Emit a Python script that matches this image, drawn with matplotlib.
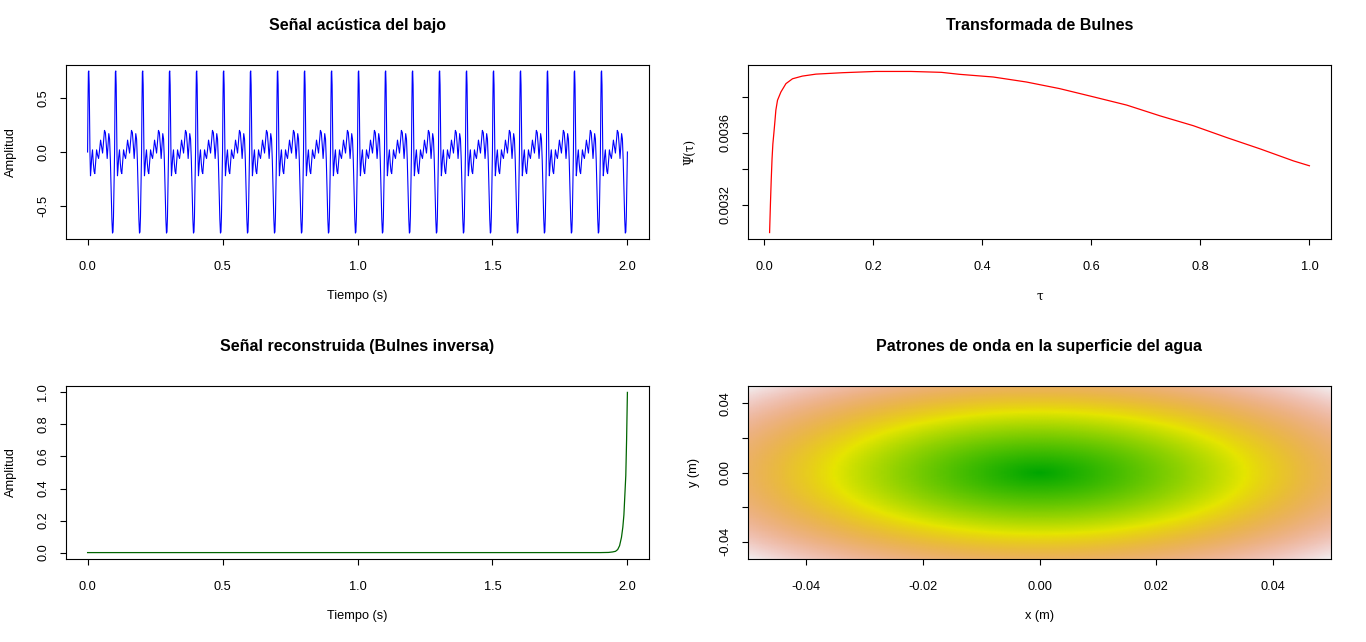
import numpy as np
import matplotlib
matplotlib.use("Agg")
import matplotlib.pyplot as plt
from matplotlib.colors import ListedColormap, hsv_to_rgb

# ---------------- data ----------------
# Panel 1: bass signal - one 0.1 s period, repeated 20 times
bass_period_s = 0.1
bass_n_periods = 20
bass_period_px = [0.0, 0.4, 0.8, 1.2, 1.6, 2.0, 2.4, 2.9, 3.4, 4.1, 4.9, 5.7,
                  6.5, 7.2, 8.0, 9.0, 10.0, 11.0, 12.0, 13.0, 14.0, 15.0,
                  16.0, 16.9, 17.8, 18.7, 19.6, 20.4, 21.2, 22.0, 22.8, 23.6,
                  24.3, 24.9, 25.4, 25.9, 26.4, 27.0]
bass_period_value = [0.0, 0.45, 0.74, 0.75, 0.62, 0.30, -0.02, -0.22, -0.16,
                     -0.05, 0.02, -0.10, -0.18, -0.20, -0.10, 0.02, -0.03,
                     -0.06, 0.02, 0.11, 0.05, -0.01, 0.10, 0.20, 0.18, 0.07,
                     -0.06, 0.05, 0.17, 0.12, -0.08, -0.35, -0.62, -0.75,
                     -0.74, -0.60, -0.30, 0.0]
bass_px_per_period = 27.0

# Panel 2: Bulnes transform
tau_values = [0.010, 0.0115, 0.013, 0.0145, 0.016, 0.0178, 0.0197, 0.0215,
              0.0245, 0.0307, 0.040, 0.052, 0.070, 0.095, 0.144, 0.205,
              0.269, 0.325, 0.358, 0.420, 0.481, 0.542, 0.604, 0.665,
              0.726, 0.787, 0.849, 0.910, 0.971, 1.0]
psi_values = [0.003044, 0.003200, 0.003339, 0.003456, 0.003539, 0.003598,
              0.003663, 0.003728, 0.003783, 0.003829, 0.003876, 0.003903,
              0.003918, 0.003929, 0.003937, 0.003944, 0.003944, 0.003939,
              0.003928, 0.003913, 0.003885, 0.003848, 0.003802, 0.003756,
              0.003696, 0.003641, 0.003574, 0.003511, 0.003444, 0.003417]

# Panel 3: reconstructed signal
recon_time = [0.0, 1.0, 1.90, 1.93, 1.945, 1.956, 1.964, 1.971, 1.978,
              1.983, 1.987, 1.990, 1.994, 1.997, 2.0]
recon_amp = [0.0, 0.0, 0.0, 0.001, 0.004, 0.008, 0.019, 0.043, 0.095,
             0.158, 0.235, 0.340, 0.480, 0.705, 1.0]

# Panel 4: water surface pattern (radial distance field)
grid_x = np.linspace(-0.05, 0.05, 201)
grid_y = np.linspace(-0.05, 0.05, 201)

# ---------------- style ----------------
plt.rcParams['font.family'] = ['Liberation Sans', 'DejaVu Sans']
FS_TICK = 9.2
FS_LAB = 9.2
FS_TITLE = 11.5

W, H = 1366, 642
fig = plt.figure(figsize=(W / 100, H / 100), dpi=100)


def make_ax(x0, y0, x1, y1):
    return fig.add_axes([x0 / W, 1 - y1 / H, (x1 - x0) / W, (y1 - y0) / H])


def style(ax, title, xlabel, ylabel, box_w, box_h, ylab_off, ylab_kw=None):
    for s in ax.spines.values():
        s.set_linewidth(0.8)
        s.set_color('black')
    ax.tick_params(direction='out', length=4.5, width=0.8, colors='black',
                   labelsize=FS_TICK)
    ax.tick_params(axis='x', pad=11.0)
    ax.tick_params(axis='y', pad=7.5)
    for lab in ax.get_yticklabels():
        lab.set_rotation(90)
        lab.set_va('center')
        lab.set_ha('right')
    ax.set_title(title, fontsize=FS_TITLE, fontweight='bold',
                 y=1 + 31 / box_h, va='center')
    ax.set_xlabel(xlabel, fontsize=FS_LAB, va='center')
    ax.xaxis.set_label_coords(0.5, -57 / box_h)
    kw = dict(fontsize=FS_LAB, va='center')
    if ylab_kw:
        kw.update(ylab_kw)
    ax.set_ylabel(ylabel, **kw)
    ax.yaxis.set_label_coords(-ylab_off / box_w, 0.5)


# ---- Panel 1 ----
ax1 = make_ax(66, 65, 649, 239)
phase = np.asarray(bass_period_px) / bass_px_per_period
t = ((np.arange(bass_n_periods)[:, None] + phase[None, :]) * bass_period_s).ravel()
sig = np.tile(np.asarray(bass_period_value), bass_n_periods)
ax1.plot(t, sig, color='blue', lw=0.8, antialiased=True)
ax1.set_xlim(-0.08, 2.08)
ax1.set_ylim(-0.805, 0.805)
ax1.set_xticks([0.0, 0.5, 1.0, 1.5, 2.0])
ax1.set_xticklabels(['0.0', '0.5', '1.0', '1.5', '2.0'])
ax1.set_yticks([-0.5, 0.0, 0.5])
ax1.set_yticklabels(['-0.5', '0.0', '0.5'])
style(ax1, 'Señal acústica del bajo', 'Tiempo (s)', 'Amplitud', 583, 174, 55)

# ---- Panel 2 ----
ax2 = make_ax(748, 65, 1331, 239)
ax2.plot(tau_values, psi_values, color='red', lw=0.9)
ax2.margins(x=0.04, y=0.04)
ax2.set_xticks([0.0, 0.2, 0.4, 0.6, 0.8, 1.0])
ax2.set_xticklabels(['0.0', '0.2', '0.4', '0.6', '0.8', '1.0'])
ax2.set_yticks([0.0032, 0.0034, 0.0036, 0.0038])
ax2.set_yticklabels(['0.0032', '', '0.0036', ''])
style(ax2, 'Transformada de Bulnes', 'τ', 'Ψ(τ)', 583, 174, 58,
      ylab_kw=dict(family=['DejaVu Serif']))
ax2.xaxis.label.set_family(['DejaVu Serif'])
ax2.xaxis.label.set_fontsize(8.5)
ax2.yaxis.label.set_fontsize(8.5)

# ---- Panel 3 ----
ax3 = make_ax(66, 386, 649, 559)
ax3.plot(recon_time, recon_amp, color='#006400', lw=0.9)
ax3.set_xlim(-0.08, 2.08)
ax3.set_ylim(-0.04, 1.04)
ax3.set_xticks([0.0, 0.5, 1.0, 1.5, 2.0])
ax3.set_xticklabels(['0.0', '0.5', '1.0', '1.5', '2.0'])
ax3.set_yticks([0.0, 0.2, 0.4, 0.6, 0.8, 1.0])
ax3.set_yticklabels(['0.0', '0.2', '0.4', '0.6', '0.8', '1.0'])
style(ax3, 'Señal reconstruida (Bulnes inversa)', 'Tiempo (s)', 'Amplitud', 583, 173, 55)

# ---- Panel 4 ----
n = 256
kk = n // 2
h1 = np.linspace(4 / 12, 2 / 12, kk); s1 = np.ones(kk); v1 = np.linspace(0.65, 0.9, kk)
h2 = np.linspace(2 / 12, 0, n - kk + 1)[1:]; s2 = np.linspace(1, 0, n - kk + 1)[1:]
v2 = np.linspace(0.9, 0.95, n - kk + 1)[1:]
hsv = np.column_stack([np.concatenate([h1, h2]), np.concatenate([s1, s2]),
                       np.concatenate([v1, v2])])
terrain = ListedColormap(hsv_to_rgb(hsv))

ax4 = make_ax(748, 386, 1331, 559)
XX, YY = np.meshgrid(grid_x, grid_y)
ZZ = np.sqrt(XX ** 2 + YY ** 2)
ax4.pcolormesh(grid_x, grid_y, ZZ, cmap=terrain, shading='gouraud')
ax4.set_xlim(-0.05, 0.05)
ax4.set_ylim(-0.05, 0.05)
ax4.set_xticks([-0.04, -0.02, 0.0, 0.02, 0.04])
ax4.set_xticklabels(['-0.04', '-0.02', '0.00', '0.02', '0.04'])
ax4.set_yticks([-0.04, -0.02, 0.0, 0.02, 0.04])
ax4.set_yticklabels(['-0.04', '', '0.00', '', '0.04'])
style(ax4, 'Patrones de onda en la superficie del agua', 'x (m)', 'y (m)', 583, 173, 54)

fig.savefig('out.png', dpi=100)
